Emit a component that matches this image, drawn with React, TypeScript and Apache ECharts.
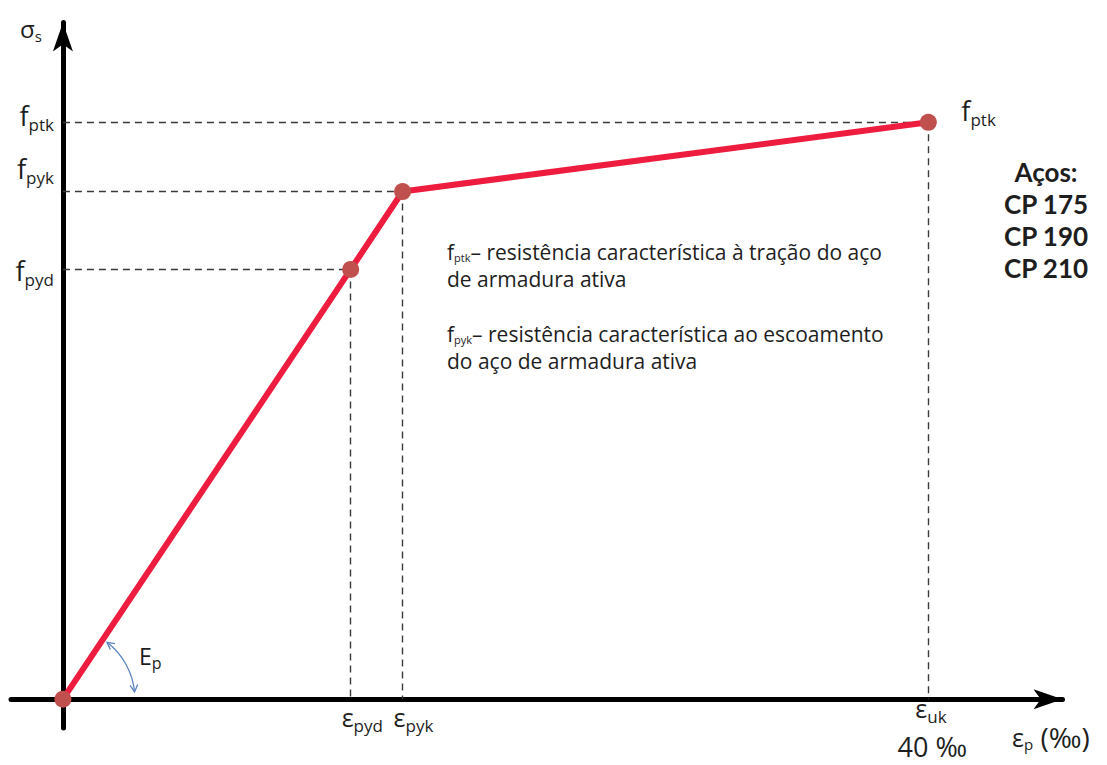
import React, { useEffect, useRef } from "react";
import * as echarts from "echarts";

// ---------------- data (schematic σ–ε diagram of prestressing steel) ----------------
const pointNames = ["0", "fpyd", "fpyk", "fptk"];
const strainValues = [0, 13.3, 15.7, 40]; // ε_p (‰)
const stressValues = [0, 74.5, 88, 100]; // σ_s (% of f_ptk, schematic)
const stressTickSubs = ["pyd", "pyk", "ptk"]; // f_… labels on the σ axis
const strainTickSubs = ["pyd", "pyk", "uk"]; // ε_… labels on the ε axis
const ultimateStrainText = "40 ‰";
const steelTitle = "Aços:";
const steelGrades = ["CP 175", "CP 190", "CP 210"];
const noteFptk = ["– resistência característica à tração do aço", "de armadura ativa"];
const noteFpyk = ["– resistência característica ao escoamento", "do aço de armadura ativa"];

// ---------------- layout / style ----------------
const X_MIN = -2.4;
const X_MAX = 46.2;
const Y_MIN = -5;
const Y_MAX = 117.3;
const FONT = "'Open Sans', 'DejaVu Sans', sans-serif";
const BOLD_FONT = "Lato, 'Open Sans', sans-serif";
const INK = "#1e1e1e";
const RED = "#ee1c3e";
const DOT = "#c0504d";
const DASH = "#3a3a3a";
const BLUE = "#5b84c0";
const Y_LABEL_DY = [1, -23, -6.5];
const X_LABEL_DX = [-9, -9, -13];
const X_LABEL_DY = [18, 18, 9];

const richSub = (main: number, sub: number, drop: number, extra: any = {}) => ({
  m: { fontSize: main, fontFamily: FONT, fill: INK },
  s: { fontSize: sub, fontFamily: FONT, fill: INK, padding: [drop, 0, 0, 0] },
  ...extra,
});

export default function App() {
  const ref = useRef<HTMLDivElement>(null);

  useEffect(() => {
    if (!ref.current) return;
    const chart = echarts.init(ref.current, undefined, { renderer: "svg" });

    const axisLine = {
      onZero: true,
      lineStyle: { color: "#000", width: 5 },
      symbol: ["none", "arrow"],
      symbolSize: [15, 29],
    };

    const curve = strainValues.map((x, i) => ({ name: pointNames[i], value: [x, stressValues[i]] }));

    const guides: any[] = [];
    for (let i = 1; i < strainValues.length; i++) {
      guides.push([{ coord: [0, stressValues[i]] }, { coord: [strainValues[i], stressValues[i]] }]);
      guides.push([{ coord: [strainValues[i], stressValues[i]] }, { coord: [strainValues[i], 0] }]);
    }

    chart.setOption({
      animation: false,
      grid: { left: 11, right: 44.5, top: 22.5, bottom: 37 },
      xAxis: {
        type: "value",
        min: X_MIN,
        max: X_MAX,
        axisLine,
        axisTick: { show: false },
        axisLabel: { show: false },
        splitLine: { show: false },
      },
      yAxis: {
        type: "value",
        min: Y_MIN,
        max: Y_MAX,
        axisLine,
        axisTick: { show: false },
        axisLabel: { show: false },
        splitLine: { show: false },
      },
      series: [
        {
          type: "line",
          data: [],
          z: 1,
          silent: true,
          markLine: {
            silent: true,
            symbol: ["none", "none"],
            label: { show: false },
            lineStyle: { type: [7, 5], color: DASH, width: 1.4 },
            data: guides,
          },
        },
        {
          type: "line",
          data: curve,
          z: 5,
          lineStyle: { color: RED, width: 6 },
          symbol: "circle",
          symbolSize: 17,
          itemStyle: { color: DOT },
          label: { show: false },
        },
      ],
    });

    const p = (x: number, y: number) => chart.convertToPixel({ gridIndex: 0 }, [x, y]) as number[];
    const [ox, oy] = p(0, 0);
    const g: any[] = [];

    // σ axis labels f_…
    stressTickSubs.forEach((sub, i) => {
      const [, y] = p(0, stressValues[i + 1]);
      g.push({
        type: "text",
        x: ox - 9,
        y: y + Y_LABEL_DY[i],
        z: 10,
        style: { text: `{m|f}{s|${sub}}`, rich: richSub(27, 17, 18), align: "right", verticalAlign: "middle" },
      });
    });

    // ε axis labels ε_…
    strainTickSubs.forEach((sub, i) => {
      const [x] = p(strainValues[i + 1], 0);
      g.push({
        type: "text",
        x: x + X_LABEL_DX[i],
        y: oy + X_LABEL_DY[i],
        z: 10,
        style: { text: `{m|ε}{s|${sub}}`, rich: richSub(25, 17, 16), align: "left", verticalAlign: "middle" },
      });
    });
    {
      const [x] = p(strainValues[3], 0);
      g.push({
        type: "text",
        x: x + 4,
        y: oy + 47,
        z: 10,
        style: { text: ultimateStrainText, fontSize: 27, fontFamily: FONT, fill: INK, align: "center", verticalAlign: "middle" },
      });
    }

    // label next to f_ptk point
    {
      const [x, y] = p(strainValues[3], stressValues[3]);
      g.push({
        type: "text",
        x: x + 33,
        y: y - 12,
        z: 10,
        style: { text: "{m|f}{s|ptk}", rich: richSub(27, 17, 18), align: "left", verticalAlign: "middle" },
      });
    }

    // axis titles
    g.push({
      type: "text",
      x: 20,
      y: 28,
      z: 10,
      style: { text: "{m|σ}{s|s}", rich: richSub(24, 15, 15), align: "left", verticalAlign: "middle" },
    });
    g.push({
      type: "text",
      x: 1012,
      y: 737,
      z: 10,
      style: {
        text: "{m|ε}{s|p}{t| (‰)}",
        rich: richSub(25, 15, 14, { t: { fontSize: 28, fontFamily: FONT, fill: INK } }),
        align: "left",
        verticalAlign: "middle",
      },
    });

    // E_p angle arc
    {
      const [kx, ky] = p(strainValues[2], stressValues[2]);
      const lineAngle = Math.atan2(ky - oy, kx - ox);
      const r = 72;
      const a0 = lineAngle + 0.07;
      const a1 = -0.1;
      g.push({
        type: "arc",
        z: 10,
        shape: { cx: ox, cy: oy, r, startAngle: a0, endAngle: a1, clockwise: true },
        style: { stroke: BLUE, lineWidth: 1.3, fill: null },
      });
      const head = (a: number, dir: number) => {
        const tx = ox + r * Math.cos(a);
        const ty = oy + r * Math.sin(a);
        const dx = -Math.sin(a) * dir;
        const dy = Math.cos(a) * dir;
        const L = 8;
        const wing = (s: number) => {
          const c = Math.cos(s), sn = Math.sin(s);
          const bx = -(dx * c - dy * sn);
          const by = -(dx * sn + dy * c);
          return [tx + L * bx, ty + L * by];
        };
        return {
          type: "polyline",
          z: 10,
          shape: { points: [wing(0.5), [tx, ty], wing(-0.5)] },
          style: { stroke: BLUE, lineWidth: 1.3, fill: null },
        };
      };
      g.push(head(a0, -1));
      g.push(head(a1, 1));
      g.push({
        type: "text",
        x: ox + 76,
        y: oy - 43,
        z: 10,
        style: { text: "{m|E}{s|p}", rich: richSub(23, 16, 14), align: "left", verticalAlign: "middle" },
      });
    }

    // explanatory notes
    const noteRich = {
      f: { fontSize: 21, fontFamily: FONT, fill: INK, lineHeight: 27 },
      s: { fontSize: 11, fontFamily: FONT, fill: INK, padding: [12, 0, 0, 0] },
      t: { fontSize: 21, fontFamily: FONT, fill: INK, lineHeight: 27 },
    };
    g.push({
      type: "text",
      x: 447,
      y: 238,
      z: 10,
      style: {
        text: `{f|f}{s|ptk}{t|${noteFptk[0]}}\n{t|${noteFptk[1]}}`,
        rich: noteRich,
        align: "left",
        verticalAlign: "top",
      },
    });
    g.push({
      type: "text",
      x: 447,
      y: 320,
      z: 10,
      style: {
        text: `{f|f}{s|pyk}{t|${noteFpyk[0]}}\n{t|${noteFpyk[1]}}`,
        rich: noteRich,
        align: "left",
        verticalAlign: "top",
      },
    });

    // steel grades (one text per line)
    [steelTitle, ...steelGrades].forEach((line, i) => {
      g.push({
        type: "text",
        x: 1046,
        y: 172 + i * 32,
        z: 10,
        style: {
          text: line,
          fontSize: 26,
          fontWeight: "bold",
          fontFamily: BOLD_FONT,
          fill: INK,
          align: "center",
          verticalAlign: "middle",
        },
      });
    });

    chart.setOption({ graphic: g });

    return () => chart.dispose();
  }, []);

  return <div ref={ref} style={{ width: 1107, height: 765, position: "absolute", left: 0, top: 0, background: "#fff" }} />;
}
